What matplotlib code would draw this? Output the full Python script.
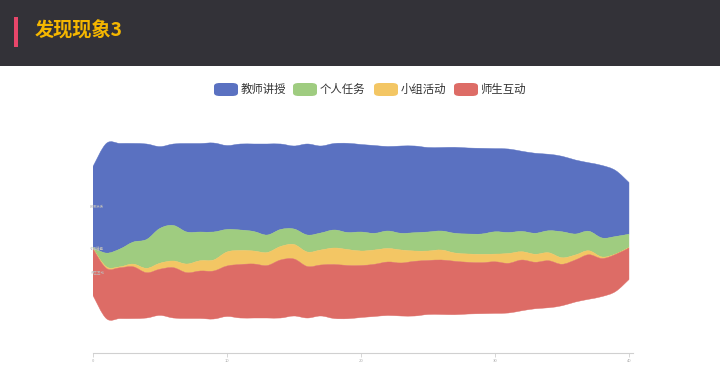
import numpy as np
import matplotlib
matplotlib.use('Agg')
import matplotlib.pyplot as plt
from matplotlib.patches import Rectangle, FancyBboxPatch, PathPatch
from matplotlib.path import Path

plt.rcParams['font.family'] = ['Noto Sans CJK SC', 'DejaVu Sans']

### data: thickness of each layer per minute
minutes = list(range(41))
series_names = ['教师讲授', '个人任务', '小组活动', '师生互动']
teacher = [81, 109.7, 105.7, 98.7, 95.5, 81.8, 81.5, 88.5, 88.5, 89, 84, 86, 87.5, 91,
           85.5, 83, 91, 87, 86.5, 89.2, 87.5, 87.8, 84.5, 87.3, 86.7, 84.5, 83.5, 86,
           86, 85.7, 83.2, 83.5, 80.2, 80, 76.5, 75.5, 74, 68.5, 72.5, 66, 51.7]
personal = [1, 13.7, 17.7, 22, 28.8, 34.8, 35.5, 32, 28.7, 28, 22.5, 20.5, 19.5, 17.5,
            17, 15.5, 17, 17, 18, 17, 19, 16.7, 17.5, 16.7, 18.3, 19, 19, 19.7, 20,
            20.3, 22.3, 21, 20.3, 21, 22, 26, 21, 19.5, 19, 17.5, 13.3]
group = [0.5, 1.6, 1, 2.7, 4.4, 6, 6.7, 8.7, 10.3, 11, 14, 14, 13, 13, 13.5, 14.5,
         14.5, 15, 16.5, 16, 14.5, 14.3, 13.5, 13, 10.3, 9.5, 10, 8.3, 8.3, 8.4, 7.7,
         9.8, 8.3, 8, 8, 6.5, 5, 4, 1.5, 0.5, 0.5]
interact = [46.5, 50.2, 50.8, 51.8, 45.3, 46.2, 50.3, 45.8, 47.5, 48, 50.5, 53.5, 54,
            52.5, 58, 57, 51.5, 51, 54, 53.2, 52, 52.2, 53.5, 53, 54.7, 54, 54.5, 53.4,
            51.7, 51, 51.6, 49.7, 50.7, 46.5, 47, 41.5, 42, 44.5, 38, 37, 31.5]
x_ticks = [0, 10, 20, 30, 40]

colors = ['#5a71c1', '#9fcc80', '#f3c664', '#dd6c66']


def smooth_segments(xs, ys):
    # bezier control points (catmull-rom style) for a smooth line through the points
    verts, codes = [], []
    n = len(xs)
    for i in range(n - 1):
        x0, y0 = xs[max(i - 1, 0)], ys[max(i - 1, 0)]
        x1, y1 = xs[i], ys[i]
        x2, y2 = xs[i + 1], ys[i + 1]
        x3, y3 = xs[min(i + 2, n - 1)], ys[min(i + 2, n - 1)]
        k = 0.35 / 2
        verts += [(x1 + (x2 - x0) * k, y1 + (y2 - y0) * k),
                  (x2 - (x3 - x1) * k, y2 - (y3 - y1) * k),
                  (x2, y2)]
        codes += [Path.CURVE4] * 3
    return verts, codes


fig = plt.figure(figsize=(7.2, 3.89), dpi=100)

# header band
fig.patches.append(Rectangle((0, 1 - 66 / 389), 1, 66 / 389, transform=fig.transFigure,
                             facecolor='#333238', edgecolor='none', zorder=0))
fig.patches.append(Rectangle((14 / 720, 1 - 47 / 389), 4 / 720, 30 / 389,
                             transform=fig.transFigure, facecolor='#e8466a',
                             edgecolor='none', zorder=1))
fig.text(35 / 720, 1 - 31 / 389, '发现现象3', color='#f5b700', fontsize=13.8,
         fontweight='bold', va='center', ha='left')

# legend
legend_x = [214, 293, 374, 454]
for name, col, lx in zip(series_names, colors, legend_x):
    fig.patches.append(FancyBboxPatch((lx / 720, 1 - 96 / 389), 24 / 720, 13 / 389,
                                      boxstyle='round,pad=0,rounding_size=0.008',
                                      transform=fig.transFigure, facecolor=col,
                                      edgecolor='none'))
    fig.text((lx + 27) / 720, 1 - 89 / 389, name, color='#333333', fontsize=8.2,
             va='center', ha='left')

# stream area: 1 data unit = 1 px, centre line at y = 231 px
ax = fig.add_axes([93 / 720, (389 - 353) / 389, 540 / 720, 253 / 389])
layers = np.array([teacher, personal, group, interact])
total = layers.sum(axis=0)
x = np.array(minutes, dtype=float)
top = total / 2.0
for vals, col, name in zip(layers, colors, series_names):
    bottom = top - vals
    v_up, c_up = smooth_segments(x, top)
    v_dn, c_dn = smooth_segments(x[::-1], bottom[::-1])
    verts = [(x[0], top[0])] + v_up + [(x[-1], bottom[-1])] + v_dn + [(x[0], top[0])]
    codes = [Path.MOVETO] + c_up + [Path.LINETO] + c_dn + [Path.CLOSEPOLY]
    ax.add_patch(PathPatch(Path(verts, codes), facecolor=col, edgecolor=col,
                           linewidth=0.3))
    ax.text(-0.2, top[0] - vals[0] / 2, name, fontsize=2.5, color='#bbbbbb',
            ha='left', va='center')
    top = bottom

ax.set_xlim(0, 40.3)
ax.set_ylim(-122, 131)
for s in ['top', 'right', 'left']:
    ax.spines[s].set_visible(False)
ax.spines['bottom'].set_color('#d0d0d0')
ax.spines['bottom'].set_linewidth(0.8)
ax.set_xticks(x_ticks)
ax.set_xticklabels([str(t) for t in x_ticks])
ax.tick_params(axis='x', length=3, width=0.6, color='#d0d0d0', labelsize=3,
               labelcolor='#aaaaaa', pad=1)
ax.set_yticks([])

fig.savefig('out.png', dpi=100)
